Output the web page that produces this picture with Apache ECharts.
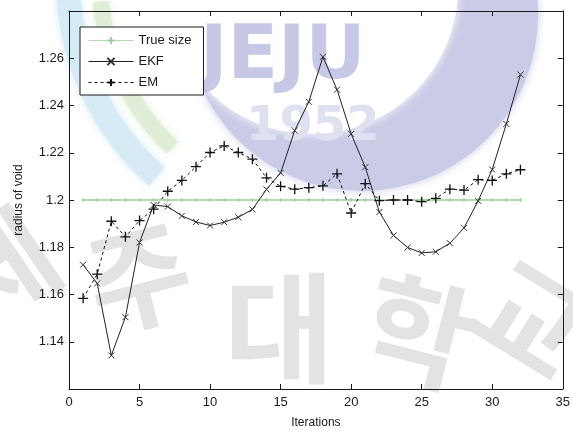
<!DOCTYPE html>
<html>
<head>
<meta charset="utf-8">
<script src="https://cdn.jsdelivr.net/npm/echarts@6/dist/echarts.min.js"></script>
<style>
  html, body { margin: 0; padding: 0; background: #ffffff; }
  #chart { width: 573px; height: 434px; }
</style>
</head>
<body>
<div id="chart"></div>
<script>
// Iteration index shared by all three estimates
const iterations = [1,2,3,4,5,6,7,8,9,10,11,12,13,14,15,16,17,18,19,20,21,22,23,24,25,26,27,28,29,30,31,32];

// Reference radius of the void
const trueSize = [1.2,1.2,1.2,1.2,1.2,1.2,1.2,1.2,1.2,1.2,1.2,1.2,1.2,1.2,1.2,1.2,
                  1.2,1.2,1.2,1.2,1.2,1.2,1.2,1.2,1.2,1.2,1.2,1.2,1.2,1.2,1.2,1.2];

// Extended Kalman filter estimate
const ekf = [1.1726,1.1647,1.1342,1.1504,1.1820,1.1979,1.1972,1.1933,1.1907,1.1892,1.1906,1.1927,
             1.1960,1.2045,1.2115,1.2294,1.2416,1.2606,1.2467,1.2280,1.2139,1.1949,1.1850,1.1799,
             1.1776,1.1781,1.1817,1.1882,1.1996,1.2129,1.2322,1.2531];

// Expectation-maximisation estimate
const em = [1.1584,1.1686,1.1910,1.1844,1.1913,1.1961,1.2037,1.2083,1.2141,1.2201,1.2229,1.2201,
            1.2173,1.2094,1.2058,1.2046,1.2052,1.2060,1.2111,1.1945,1.2069,1.1997,1.2000,1.2000,
            1.1993,1.2007,1.2046,1.2042,1.2086,1.2083,1.2111,1.2128];

// Axis settings
const xRange = [0, 35];
const xStep = 5;
const yRange = [1.12, 1.28];
const yStep = 0.02;

const pair = (xs, ys) => xs.map((x, i) => [x, ys[i]]);

const FONT = 'Liberation Sans, Arial, sans-serif';
const INK = '#1a1a1a';

const crossPath = 'path://M0,0L10,10M10,0L0,10';
const plusPath = 'path://M5,0L5,10M0,5L10,5';

const chart = echarts.init(document.getElementById('chart'), null, { renderer: 'canvas' });

const axisCommon = {
  type: 'value',
  axisLine: { show: true, onZero: false, lineStyle: { color: INK, width: 1 } },
  axisTick: { show: true, inside: true, length: 5, lineStyle: { color: INK } },
  splitLine: { show: false }
};

// Soft university emblem behind the plot
const LAV = '#cacce7';
const GREY = '#e3e3e3';
const soft = (fill, blur) => ({ fill, shadowColor: fill, shadowBlur: blur });
const hangul = (ch, x, y, size, rot) => ({
  type: 'text', x, y, rotation: rot,
  style: Object.assign({ text: ch, font: 'bold ' + size + 'px "Noto Sans CJK KR", sans-serif' }, soft(GREY, 7))
});
const emblem = {
  type: 'group', z: -10, zlevel: 0, silent: true,
  children: [
    // blue and green arcs, upper left
    { type: 'arc', shape: { cx: 330, cy: -20, r: 262, startAngle: Math.PI * 0.73, endAngle: Math.PI * 0.99 },
      style: { stroke: '#d6ebf6', lineWidth: 24, fill: null, shadowColor: '#d6ebf6', shadowBlur: 8 } },
    { type: 'arc', shape: { cx: 330, cy: -20, r: 230, startAngle: Math.PI * 0.74, endAngle: Math.PI * 0.97 },
      style: { stroke: '#e0eed8', lineWidth: 16, fill: null, shadowColor: '#e0eed8', shadowBlur: 8 } },
    // lavender crescent: a disc with a white disc cut over it
    { type: 'circle', shape: { cx: 362, cy: 15, r: 176 }, style: soft(LAV, 8) },
    { type: 'circle', shape: { cx: 312, cy: -12, r: 146 }, style: soft('#ffffff', 8) },
    // letters
    { type: 'text', x: 200, y: 22,
      style: Object.assign({ text: 'JEJU', font: 'bold 74px "DejaVu Sans", sans-serif' }, soft('#c6c8e5', 5)) },
    { type: 'text', x: 246, y: 104,
      style: Object.assign({ text: '1952', font: 'bold 48px "DejaVu Sans", sans-serif' }, soft('#e0e1f0', 4)) },
    hangul('제', -70, 250, 110, 0.6),
    hangul('주', 75, 236, 112, 0.25),
    hangul('대', 224, 268, 120, 0),
    hangul('학', 380, 262, 116, -0.25),
    hangul('교', 515, 240, 118, -0.55)
  ]
};

chart.setOption({
  animation: false,
  backgroundColor: '#ffffff',
  grid: { left: 69, right: 5, top: 11, bottom: 41, containLabel: false },
  graphic: [emblem],
  legend: {
    left: 80, top: 27, z: 10,
    orient: 'vertical',
    backgroundColor: '#ffffff',
    borderColor: INK, borderWidth: 1, borderRadius: 0,
    padding: [6, 12, 5, 8],
    itemGap: 6,
    itemWidth: 45, itemHeight: 9,
    lineStyle: { width: 1 },
    textStyle: { fontFamily: FONT, fontSize: 13, color: INK, lineHeight: 15 },
    data: ['True size', 'EKF', 'EM']
  },
  xAxis: [
    Object.assign({}, axisCommon, {
      min: xRange[0], max: xRange[1], interval: xStep, position: 'bottom',
      name: 'Iterations', nameLocation: 'middle', nameGap: 28,
      nameTextStyle: { fontFamily: FONT, fontSize: 12, color: INK },
      axisLabel: { fontFamily: FONT, fontSize: 13, color: INK, margin: 7 }
    }),
    Object.assign({}, axisCommon, {
      min: xRange[0], max: xRange[1], interval: xStep, position: 'top',
      axisLabel: { show: false }
    })
  ],
  yAxis: [
    Object.assign({}, axisCommon, {
      min: yRange[0], max: yRange[1], interval: yStep, position: 'left',
      name: 'radius of void', nameLocation: 'middle', nameGap: 44,
      nameTextStyle: { fontFamily: FONT, fontSize: 12, color: INK },
      axisLabel: {
        fontFamily: FONT, fontSize: 13, color: INK, margin: 5,
        showMinLabel: false, showMaxLabel: false,
        formatter: v => String(parseFloat(v.toFixed(2)))
      }
    }),
    Object.assign({}, axisCommon, {
      min: yRange[0], max: yRange[1], interval: yStep, position: 'right',
      axisLabel: { show: false }
    })
  ],
  series: [
    {
      name: 'True size', type: 'line',
      data: pair(iterations, trueSize),
      symbol: plusPath, symbolSize: 4, showAllSymbol: true,
      lineStyle: { color: '#b3dab4', width: 2 },
      itemStyle: { color: 'none', borderColor: '#9fcfa1', borderWidth: 1 },
      z: 2
    },
    {
      name: 'EKF', type: 'line',
      data: pair(iterations, ekf),
      symbol: crossPath, symbolSize: 6, showAllSymbol: true,
      lineStyle: { color: '#222222', width: 1, type: 'solid' },
      itemStyle: { color: 'none', borderColor: '#333333', borderWidth: 1 },
      z: 3
    },
    {
      name: 'EM', type: 'line',
      data: pair(iterations, em),
      symbol: plusPath, symbolSize: 10, showAllSymbol: true,
      lineStyle: { color: '#111111', width: 1, type: [3, 3] },
      itemStyle: { color: 'none', borderColor: '#111111', borderWidth: 1.3 },
      z: 4
    }
  ]
});
</script>
</body>
</html>
